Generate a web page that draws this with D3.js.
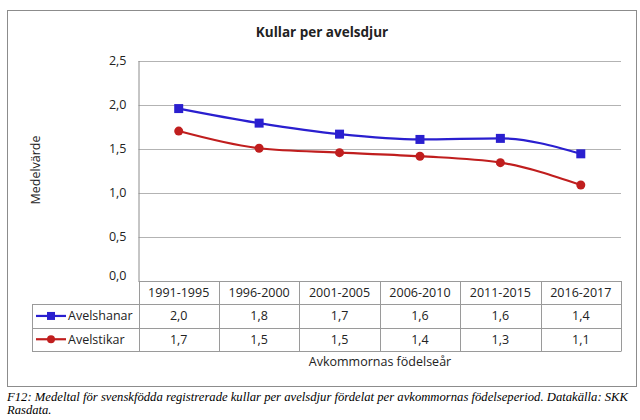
<!DOCTYPE html>
<html>
<head>
<meta charset="utf-8">
<script src="https://cdn.jsdelivr.net/npm/d3@7"></script>
<style>
  body { margin: 0; background: #fff; }
  text { font-family: "Open Sans", sans-serif; fill: #222; }
</style>
</head>
<body>
<svg></svg>
<script>
const width = 640;
const height = 420;

// data
const periods = ['1991-1995', '1996-2000', '2001-2005', '2006-2010', '2011-2015', '2016-2017'];
const hanar = [1.955, 1.79, 1.665, 1.605, 1.617, 1.442];
const tikar = [1.70, 1.505, 1.455, 1.415, 1.342, 1.088];
const yTicks = [0, 0.5, 1.0, 1.5, 2.0, 2.5];

const series = [
  { name: 'Avelshanar', values: hanar, color: '#2a1fcf', marker: 'square' },
  { name: 'Avelstikar', values: tikar, color: '#c01e1e', marker: 'circle' }
];

const svg = d3.select('svg')
  .attr('width', width)
  .attr('height', height);

const sv = d3.formatLocale({ decimal: ',', thousands: ' ', grouping: [3], currency: ['', ' kr'] });
const fmt = sv.format('.1f');

const plot = { left: 138.5, right: 621, top: 60.5, bottom: 281 };
const rowH = 23.3;
const legendLeft = 32;

const x = d3.scaleBand()
  .domain(periods)
  .range([plot.left, plot.right]);

const y = d3.scaleLinear()
  .domain([0, 2.5])
  .range([plot.bottom, plot.top]);

// outer frame
svg.append('rect')
  .attr('x', 7.5).attr('y', 10.5)
  .attr('width', 629).attr('height', 376)
  .attr('fill', 'none')
  .attr('stroke', '#8c8c8c');

svg.append('text')
  .attr('x', 322).attr('y', 37)
  .attr('text-anchor', 'middle')
  .attr('font-size', 13.5)
  .attr('font-weight', 'bold')
  .text('Kullar per avelsdjur');

// gridlines
svg.append('g')
  .selectAll('line')
  .data(yTicks.filter(d => d > 0))
  .enter()
  .append('line')
  .attr('x1', plot.left).attr('x2', plot.right)
  .attr('y1', d => Math.round(y(d)) + 0.5)
  .attr('y2', d => Math.round(y(d)) + 0.5)
  .attr('stroke', '#b3b3b3');

// y axis
const yAxis = svg.append('g')
  .attr('transform', `translate(${plot.left},0)`)
  .call(d3.axisLeft(y).tickValues(yTicks).tickFormat(fmt).tickSize(0).tickPadding(12));
yAxis.select('.domain').attr('stroke', '#8c8c8c');
yAxis.selectAll('text')
  .attr('font-size', 12.5)
  .attr('font-family', '"Open Sans", sans-serif')
  .attr('fill', '#222');
yAxis.selectAll('.tick').filter(d => d === 0).select('text').attr('dy', '-0.1em');

svg.append('text')
  .attr('transform', 'translate(40,170) rotate(-90)')
  .attr('text-anchor', 'middle')
  .attr('font-size', 12.5)
  .text('Medelvärde');

// lines and markers
const line = d3.line()
  .x((d, i) => x(periods[i]) + x.bandwidth() / 2)
  .y(d => y(d))
  .curve(d3.curveMonotoneX);

series.forEach(s => {
  svg.append('path')
    .datum(s.values)
    .attr('fill', 'none')
    .attr('stroke', s.color)
    .attr('stroke-width', 2.2)
    .attr('d', line);

  const g = svg.append('g');
  if (s.marker === 'square') {
    g.selectAll('rect')
      .data(s.values)
      .enter()
      .append('rect')
      .attr('x', (d, i) => x(periods[i]) + x.bandwidth() / 2 - 4.5)
      .attr('y', d => y(d) - 4.5)
      .attr('width', 9).attr('height', 9)
      .attr('fill', s.color);
  } else {
    g.selectAll('circle')
      .data(s.values)
      .enter()
      .append('circle')
      .attr('cx', (d, i) => x(periods[i]) + x.bandwidth() / 2)
      .attr('cy', d => y(d))
      .attr('r', 4.5)
      .attr('fill', s.color);
  }
});

// data table
const table = svg.append('g')
  .attr('fill', 'none')
  .attr('stroke', '#9a9a9a');

const tableBottom = plot.bottom + rowH * 3;

// horizontal lines
table.append('line')
  .attr('x1', plot.left).attr('x2', plot.right)
  .attr('y1', plot.bottom + 0.5).attr('y2', plot.bottom + 0.5);
[1, 2, 3].forEach(r => {
  table.append('line')
    .attr('x1', legendLeft).attr('x2', plot.right)
    .attr('y1', Math.round(plot.bottom + rowH * r) + 0.5)
    .attr('y2', Math.round(plot.bottom + rowH * r) + 0.5);
});

// vertical lines
table.selectAll('.col')
  .data(periods.concat(['end']))
  .enter()
  .append('line')
  .attr('x1', (d, i) => Math.round(plot.left + x.step() * i) + 0.5)
  .attr('x2', (d, i) => Math.round(plot.left + x.step() * i) + 0.5)
  .attr('y1', plot.bottom)
  .attr('y2', Math.round(tableBottom) + 0.5);
table.append('line')
  .attr('x1', legendLeft + 0.5).attr('x2', legendLeft + 0.5)
  .attr('y1', Math.round(plot.bottom + rowH) + 0.5)
  .attr('y2', Math.round(tableBottom) + 0.5);

// header row
svg.append('g')
  .selectAll('text')
  .data(periods)
  .enter()
  .append('text')
  .attr('x', d => x(d) + x.bandwidth() / 2)
  .attr('y', plot.bottom + rowH / 2)
  .attr('dy', '0.36em')
  .attr('text-anchor', 'middle')
  .attr('font-size', 12.5)
  .text(d => d);

series.forEach((s, r) => {
  const cy = plot.bottom + rowH * (r + 1) + rowH / 2;
  const row = svg.append('g');
  row.selectAll('text')
    .data(s.values)
    .enter()
    .append('text')
    .attr('x', (d, i) => x(periods[i]) + x.bandwidth() / 2)
    .attr('y', cy)
    .attr('dy', '0.36em')
    .attr('text-anchor', 'middle')
    .attr('font-size', 12.5)
    .text(d => fmt(d));

  // legend key
  row.append('line')
    .attr('x1', 36).attr('x2', 66)
    .attr('y1', cy).attr('y2', cy)
    .attr('stroke', s.color)
    .attr('stroke-width', 2.2);
  if (s.marker === 'square') {
    row.append('rect')
      .attr('x', 51 - 4).attr('y', cy - 4)
      .attr('width', 8).attr('height', 8)
      .attr('fill', s.color);
  } else {
    row.append('circle')
      .attr('cx', 51).attr('cy', cy)
      .attr('r', 4)
      .attr('fill', s.color);
  }
  row.append('text')
    .attr('x', 68)
    .attr('y', cy)
    .attr('dy', '0.36em')
    .attr('font-size', 12.5)
    .text(s.name);
});

svg.append('text')
  .attr('x', 380).attr('y', 366)
  .attr('text-anchor', 'middle')
  .attr('font-size', 12.5)
  .text('Avkommornas födelseår');

// caption
const captionLines = [
  'F12: Medeltal för svenskfödda registrerade kullar per avelsdjur fördelat per avkommornas födelseperiod. Datakälla: SKK',
  'Rasdata.'
];
svg.append('g')
  .selectAll('text')
  .data(captionLines)
  .enter()
  .append('text')
  .attr('x', 7)
  .attr('y', (d, i) => 401 + i * 12.5)
  .attr('textLength', (d, i) => i === 0 ? 621 : null)
  .attr('lengthAdjust', 'spacingAndGlyphs')
  .style('font-family', '"Liberation Serif", "Times New Roman", serif')
  .style('font-style', 'italic')
  .style('font-size', '12.6px')
  .style('fill', '#000')
  .text(d => d);
</script>
</body>
</html>
